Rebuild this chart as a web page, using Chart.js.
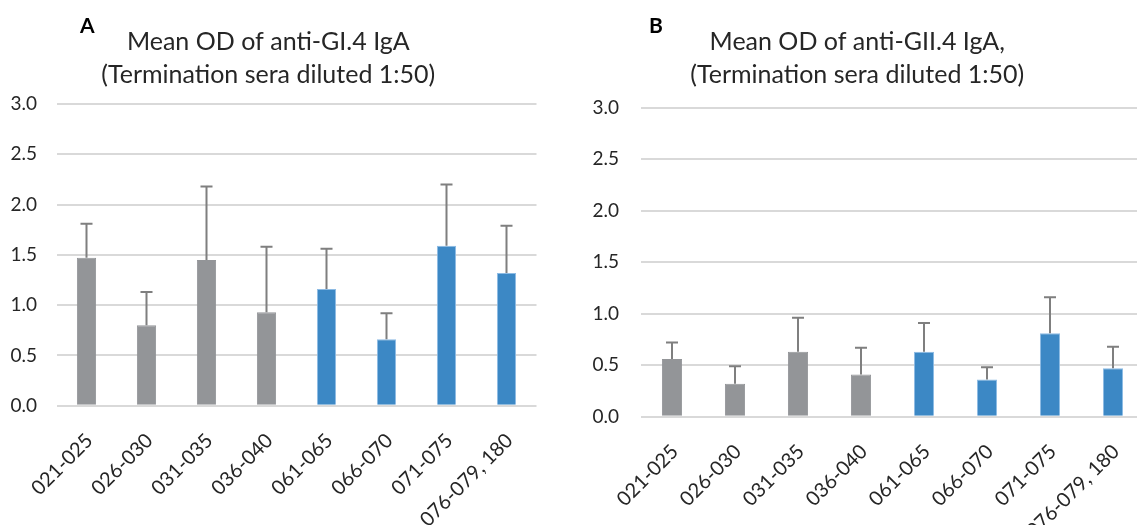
<!DOCTYPE html>
<html>
<head>
<meta charset="utf-8">
<script src="https://cdn.jsdelivr.net/npm/chart.js@4.4.1/dist/chart.umd.min.js"></script>
<style>
  html, body { margin:0; padding:0; background:#fff; overflow:hidden; width:1137px; height:525px; }
  .wrap { position:absolute; top:0; height:525px; }
  #wa { left:0; width:554px; }
  #wb { left:570px; width:612px; }
</style>
</head>
<body>
<div class="wrap" id="wa"><canvas id="ca"></canvas></div>
<div class="wrap" id="wb"><canvas id="cb"></canvas></div>
<script>
// ---- data ----
const categories = ['021-025', '026-030', '031-035', '036-040', '061-065', '066-070', '071-075', '076-079, 180'];
const meanA = [1.47, 0.80, 1.45, 0.93, 1.16, 0.66, 1.59, 1.32];
const errA  = [0.34, 0.33, 0.73, 0.65, 0.40, 0.26, 0.61, 0.47];
const meanB = [0.56, 0.32, 0.63, 0.41, 0.63, 0.36, 0.81, 0.47];
const errB  = [0.16, 0.17, 0.33, 0.26, 0.28, 0.12, 0.35, 0.21];
const groupColors = ['#939598', '#939598', '#939598', '#939598', '#3c88c5', '#3c88c5', '#3c88c5', '#3c88c5'];
const groupBorders = ['#939598', '#939598', '#939598', '#939598', '#8dbbe4', '#8dbbe4', '#8dbbe4', '#8dbbe4'];
const yTicks = [0, 0.5, 1.0, 1.5, 2.0, 2.5, 3.0];
const titleA = ['Mean OD of anti-GI.4 IgA', '(Termination sera diluted 1:50)'];
const titleB = ['Mean OD of anti-GII.4 IgA,', '(Termination sera diluted 1:50)'];

const FONT = 'Lato, "Open Sans", sans-serif';
const TXT = '#262626';

const errorBars = {
  id: 'errorBars',
  afterDatasetsDraw(chart, args, opts) {
    const ctx = chart.ctx;
    const meta = chart.getDatasetMeta(0);
    const ys = chart.scales.y;
    const means = chart.data.datasets[0].data;
    ctx.save();
    ctx.strokeStyle = '#7f7f7f';
    ctx.lineWidth = 2;
    meta.data.forEach((bar, i) => {
      const yTop = ys.getPixelForValue(means[i] + opts.errors[i]);
      ctx.beginPath();
      ctx.moveTo(bar.x, bar.y);
      ctx.lineTo(bar.x, yTop);
      ctx.moveTo(bar.x - 6, yTop);
      ctx.lineTo(bar.x + 6, yTop);
      ctx.stroke();
    });
    ctx.restore();
  }
};

const panelLetter = {
  id: 'panelLetter',
  afterDraw(chart, args, opts) {
    const ctx = chart.ctx;
    ctx.save();
    ctx.font = 'bold 21px ' + FONT;
    ctx.fillStyle = '#000';
    ctx.textBaseline = 'alphabetic';
    ctx.fillText(opts.text, opts.x, opts.y);
    ctx.restore();
  }
};

function makeChart(id, title, means, errs, cfg) {
  return new Chart(document.getElementById(id), {
    type: 'bar',
    data: {
      labels: categories,
      datasets: [{
        data: means,
        backgroundColor: groupColors,
        borderColor: groupBorders,
        borderWidth: 1,
        barPercentage: 0.32,
        categoryPercentage: 1.0
      }]
    },
    options: {
      responsive: true,
      maintainAspectRatio: false,
      animation: false,
      layout: { padding: { top: 0, right: cfg.padRight, left: 0, bottom: 0 } },
      plugins: {
        legend: { display: false },
        tooltip: { enabled: false },
        title: {
          display: true, text: title[0], color: TXT,
          font: { family: FONT, size: 25, weight: 'normal', lineHeight: 1.2 },
          padding: { top: 27, bottom: 0 }
        },
        subtitle: {
          display: true, text: title[1], color: TXT,
          font: { family: FONT, size: 25, weight: 'normal', lineHeight: 1.2 },
          padding: { top: 3, bottom: cfg.subBottom }
        },
        errorBars: { errors: errs },
        panelLetter: cfg.letter
      },
      scales: {
        x: {
          grid: { display: false },
          border: { display: false },
          ticks: {
            autoSkip: false, maxRotation: 45, minRotation: 45,
            color: TXT, padding: 15, labelOffset: 3,
            font: { family: FONT, size: 20 }
          },
          afterFit(s) { s.height = cfg.xHeight; }
        },
        y: {
          min: 0, max: 3,
          afterBuildTicks(s) { s.ticks = yTicks.map(v => ({ value: v })); },
          grid: { color: '#d9d9d9', lineWidth: 2, drawTicks: false },
          border: { display: false },
          ticks: {
            color: TXT, padding: cfg.yPad,
            font: { family: FONT, size: 19 },
            callback: v => Number(v).toFixed(1)
          },
          afterFit(s) { s.width = cfg.yWidth; }
        }
      }
    },
    plugins: [errorBars, panelLetter]
  });
}

makeChart('ca', titleA, meanA, errA, {
  padRight: 17.5, subBottom: 14, xHeight: 119.3, yWidth: 56.5, yPad: 19.5,
  letter: { text: 'A', x: 80, y: 33 }
});
makeChart('cb', titleB, meanB, errB, {
  padRight: 37.5, subBottom: 17.7, xHeight: 108.3, yWidth: 70.5, yPad: 21.5,
  letter: { text: 'B', x: 79, y: 33 }
});
</script>
</body>
</html>
